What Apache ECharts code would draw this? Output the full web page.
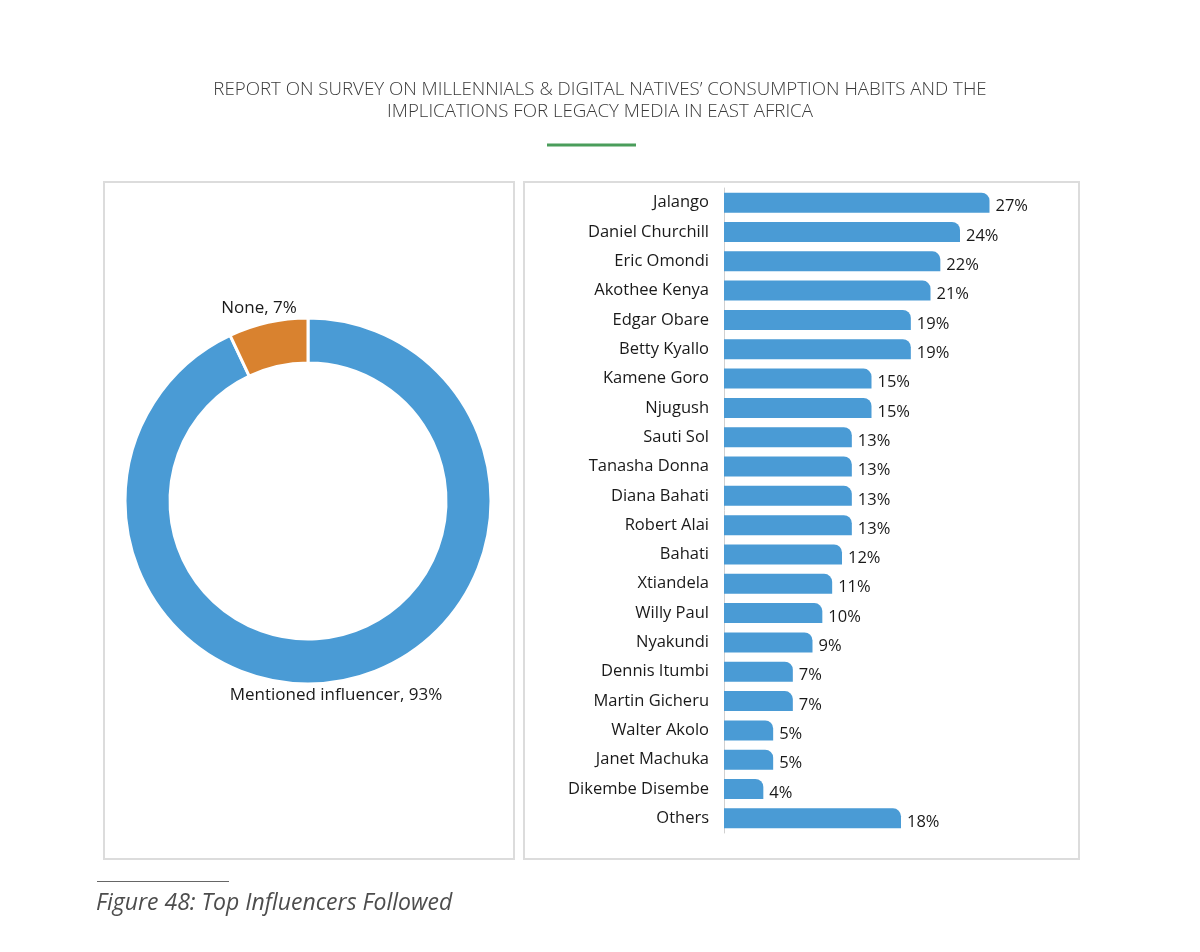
<!DOCTYPE html>
<html>
<head>
<meta charset="utf-8">
<script src="https://cdn.jsdelivr.net/npm/echarts@6/dist/echarts.min.js"></script>
<style>
html,body{margin:0;padding:0;background:#fff;}
#c{width:1200px;height:952px;}
</style>
</head>
<body>
<div id="c"></div>
<script>
const titleLines = ["REPORT ON SURVEY ON MILLENNIALS & DIGITAL NATIVES\u2019 CONSUMPTION HABITS AND THE", "IMPLICATIONS FOR LEGACY MEDIA IN EAST AFRICA"];
const caption = "Figure 48: Top Influencers Followed";

const donutNames = ["Mentioned influencer", "None"];
const donutValues = [93, 7];

const influencers = ["Jalango", "Daniel Churchill", "Eric Omondi", "Akothee Kenya", "Edgar Obare", "Betty Kyallo", "Kamene Goro", "Njugush", "Sauti Sol", "Tanasha Donna", "Diana Bahati", "Robert Alai", "Bahati", "Xtiandela", "Willy Paul", "Nyakundi", "Dennis Itumbi", "Martin Gicheru", "Walter Akolo", "Janet Machuka", "Dikembe Disembe", "Others"];
const influencerValues = [27, 24, 22, 21, 19, 19, 15, 15, 13, 13, 13, 13, 12, 11, 10, 9, 7, 7, 5, 5, 4, 18];

const BLUE = '#4a9bd5';
const ORANGE = '#d9822f';
const FONT = '"Open Sans", "Noto Sans", sans-serif';

const chart = echarts.init(document.getElementById('c'), null, {renderer: 'canvas'});

const donutLabelPos = {"Mentioned influencer": [336, 695], "None": [259, 308]};

const option = {
  backgroundColor: '#ffffff',
  animation: false,
  graphic: [
    {type: 'text', left: 'center', top: 79, style: {text: titleLines.join('\n'), font: '300 18.7px ' + FONT, fill: '#3a3a3a', textAlign: 'center', lineHeight: 22}},
    {type: 'rect', shape: {x: 547, y: 143.5, width: 89, height: 3}, style: {fill: '#4a9d5b'}},
    {type: 'rect', z: -1, shape: {x: 104, y: 182, width: 410, height: 677}, style: {fill: '#fff', stroke: '#dcdcdc', lineWidth: 2}},
    {type: 'rect', z: -1, shape: {x: 524, y: 182, width: 555, height: 677}, style: {fill: '#fff', stroke: '#dcdcdc', lineWidth: 2}},
    {type: 'rect', shape: {x: 97, y: 881, width: 132, height: 1}, style: {fill: '#666'}},
    {type: 'text', left: 96, top: 892, style: {text: caption, font: 'italic 23px ' + FONT, fill: '#4d4d4d'}}
  ],
  grid: {left: 724, top: 188, width: 295, height: 645},
  xAxis: {
    type: 'value', min: 0, max: 30, show: false, splitLine: {show: false}
  },
  yAxis: {
    type: 'category', data: influencers, inverse: true,
    axisLine: {show: true, lineStyle: {color: '#d0d0d0', width: 1}},
    axisTick: {show: false},
    axisLabel: {color: '#1a1a1a', fontSize: 16.5, fontFamily: FONT, margin: 15}
  },
  series: [
    {
      type: 'pie',
      center: [308, 501],
      radius: [138, 183],
      startAngle: 90,
      clockwise: true,
      silent: true,
      data: donutNames.map((n, i) => ({name: n, value: donutValues[i], itemStyle: {color: i === 0 ? BLUE : ORANGE}})),
      itemStyle: {borderColor: '#fff', borderWidth: 3},
      label: {show: true, position: 'outside', formatter: p => p.name + ', ' + p.value + '%', color: '#1a1a1a', fontSize: 17, fontFamily: FONT},
      labelLine: {show: false},
      labelLayout: function (params) {
        const pos = donutLabelPos[params.text.split(',')[0]];
        return {x: pos[0], y: pos[1], align: 'center', verticalAlign: 'middle'};
      }
    },
    {
      type: 'bar',
      data: influencerValues,
      barWidth: 20,
      silent: true,
      itemStyle: {color: BLUE, borderRadius: [0, 8, 0, 0]},
      label: {show: true, position: 'right', distance: 6, offset: [0, 4], formatter: '{c}%', color: '#1a1a1a', fontSize: 16.5, fontFamily: FONT}
    }
  ]
};
chart.setOption(option);
</script>
</body>
</html>
